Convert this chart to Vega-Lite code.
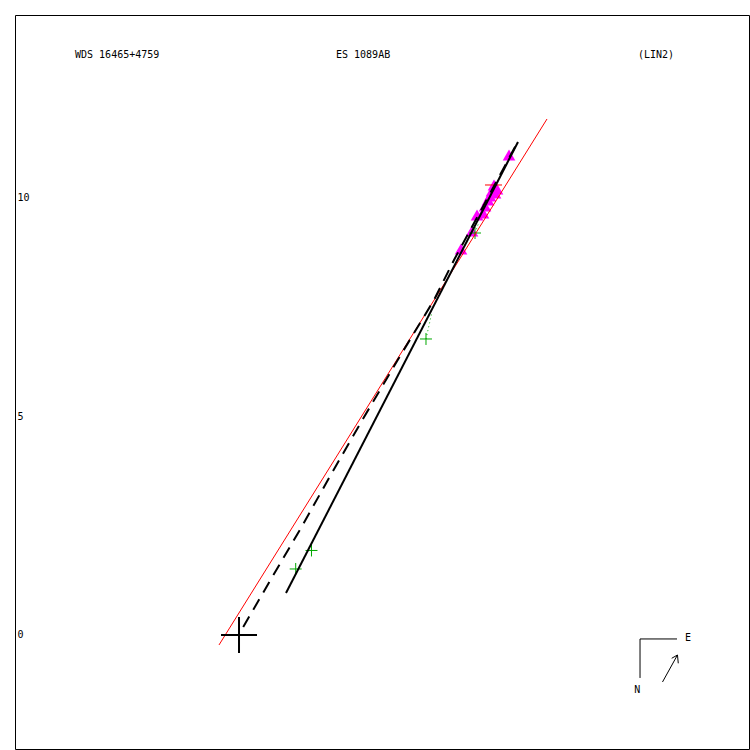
{
  "$schema": "https://vega.github.io/schema/vega-lite/v6.json",
  "width": 734,
  "height": 734,
  "autosize": {"type": "none"},
  "padding": {"left": 15, "top": 15, "right": 1, "bottom": 1},
  "background": "white",
  "config": {
    "view": {"stroke": "black", "strokeWidth": 1},
    "axis": {"grid": false}
  },
  "datasets": {
    "fit": [{"x": -0.457, "y": -0.228, "x2": 7.037, "y2": 11.789}],
    "nodes": [
      {"x": 0.096, "y": 0.183},
      {"x": 0.72, "y": 1.257},
      {"x": 1.43, "y": 2.467},
      {"x": 2.056, "y": 3.587},
      {"x": 2.817, "y": 4.912},
      {"x": 3.626, "y": 6.283},
      {"x": 4.455, "y": 7.654},
      {"x": 4.912, "y": 8.568},
      {"x": 5.655, "y": 9.938},
      {"x": 6.367, "y": 11.263}
    ],
    "orbit": [{"x": 1.074, "y": 0.96, "x2": 6.374, "y2": 11.263}],
    "redres": [{"x": 5.62, "y": 10.281, "x2": 6.009, "y2": 10.281}],
    "greenres": [
      {"x": 4.272, "y": 6.763, "x2": 4.409, "y2": 7.38},
      {"x": 5.392, "y": 9.184, "x2": 5.483, "y2": 9.436}
    ],
    "tri": [
      {"x": 6.169, "y": 10.966},
      {"x": 5.826, "y": 10.281},
      {"x": 5.894, "y": 10.19},
      {"x": 5.78, "y": 10.144},
      {"x": 5.735, "y": 10.03},
      {"x": 5.689, "y": 9.938},
      {"x": 5.62, "y": 9.801},
      {"x": 5.575, "y": 9.641},
      {"x": 5.438, "y": 9.596},
      {"x": 5.323, "y": 9.23},
      {"x": 5.072, "y": 8.819},
      {"x": 5.849, "y": 10.098}
    ],
    "plus": [
      {"x": 4.272, "y": 6.763},
      {"x": 1.656, "y": 1.931},
      {"x": 1.295, "y": 1.508},
      {"x": 5.392, "y": 9.184}
    ],
    "origin": [{"x": 0, "y": 0}],
    "compass": [
      {"x": 9.162, "y": -0.091, "x2": 10.007, "y2": -0.091},
      {"x": 9.162, "y": -0.091, "x2": 9.162, "y2": -0.982},
      {"x": 9.676, "y": -1.074, "x2": 10.018, "y2": -0.457},
      {"x": 10.018, "y": -0.457, "x2": 9.886, "y2": -0.532},
      {"x": 10.018, "y": -0.457, "x2": 10.036, "y2": -0.647}
    ],
    "labels": [
      {"x": -3.747, "y": 13.251, "text": "WDS 16465+4759"},
      {"x": 2.216, "y": 13.251, "text": "ES 1089AB"},
      {"x": 9.116, "y": 13.251, "text": "(LIN2)"},
      {"x": 10.19, "y": -0.069, "text": "E"},
      {"x": 9.03, "y": -1.257, "text": "N"}
    ]
  },
  "encoding": {
    "x": {"field": "x", "type": "quantitative", "scale": {"domain": [-5.118, 11.652], "nice": false, "zero": false}, "axis": null},
    "y": {"field": "y", "type": "quantitative", "scale": {"domain": [-2.605, 14.165], "nice": false, "zero": false},
      "axis": {"values": [0, 5, 10], "title": null, "ticks": false, "domain": false, "labelAlign": "left", "labelPadding": -2, "labelBaseline": "middle", "labelFont": "DejaVu Sans Mono", "labelFontSize": 10, "labelColor": "black"}}
  },
  "layer": [
    {
      "data": {"name": "tri"},
      "mark": {"type": "point", "shape": "triangle-up", "filled": true, "color": "#ff00ff", "size": 160, "opacity": 1}
    },
    {
      "data": {"name": "plus"},
      "mark": {"type": "point", "shape": "M-1,0H1M0,-1V1", "filled": false, "stroke": "#00a800", "strokeWidth": 1, "size": 144, "opacity": 1}
    },
    {
      "data": {"name": "greenres"},
      "mark": {"type": "rule", "stroke": "#00a800", "strokeWidth": 1, "strokeDash": [1, 3]},
      "encoding": {"x2": {"field": "x2"}, "y2": {"field": "y2"}}
    },
    {
      "data": {"name": "redres"},
      "mark": {"type": "rule", "stroke": "red", "strokeWidth": 1},
      "encoding": {"x2": {"field": "x2"}, "y2": {"field": "y2"}}
    },
    {
      "data": {"name": "fit"},
      "mark": {"type": "rule", "stroke": "red", "strokeWidth": 1},
      "encoding": {"x2": {"field": "x2"}, "y2": {"field": "y2"}}
    },
    {
      "data": {"name": "nodes"},
      "mark": {"type": "line", "stroke": "black", "strokeWidth": 2, "strokeDash": [12, 8]},
      "encoding": {}
    },
    {
      "data": {"name": "orbit"},
      "mark": {"type": "rule", "stroke": "black", "strokeWidth": 2},
      "encoding": {"x2": {"field": "x2"}, "y2": {"field": "y2"}}
    },
    {
      "data": {"name": "origin"},
      "mark": {"type": "point", "shape": "M-1,0H1M0,-1V1", "filled": false, "stroke": "black", "strokeWidth": 2, "size": 1296, "opacity": 1}
    },
    {
      "data": {"name": "compass"},
      "mark": {"type": "rule", "stroke": "black", "strokeWidth": 1},
      "encoding": {"x2": {"field": "x2"}, "y2": {"field": "y2"}}
    },
    {
      "data": {"name": "labels"},
      "mark": {"type": "text", "align": "left", "baseline": "middle", "font": "DejaVu Sans Mono", "fontSize": 10, "color": "black"},
      "encoding": {"text": {"field": "text"}}
    }
  ]
}
